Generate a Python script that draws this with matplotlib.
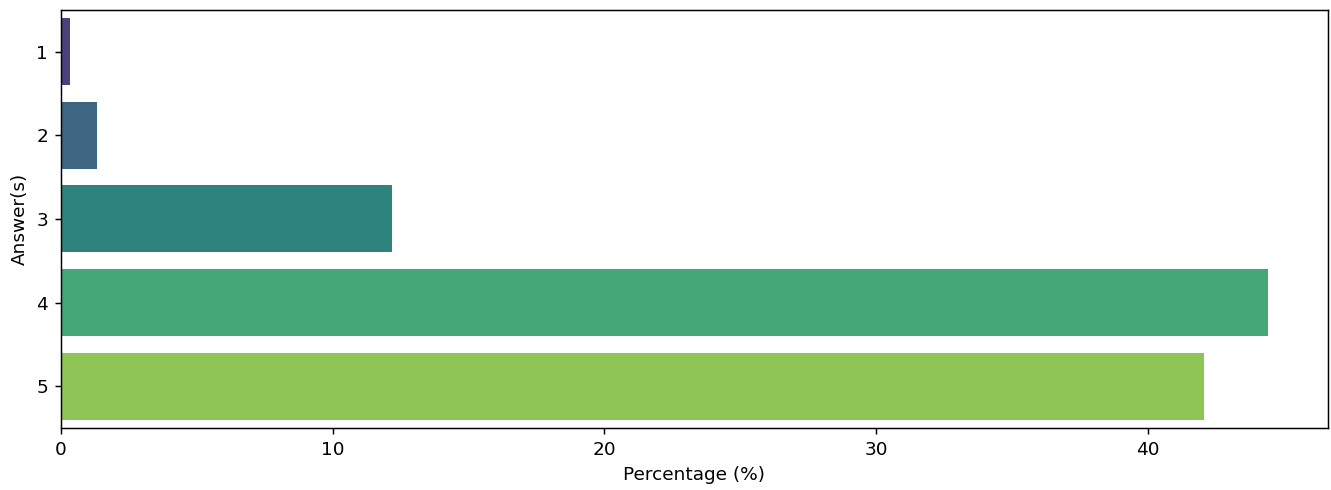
import matplotlib
matplotlib.use("Agg")
import matplotlib.pyplot as plt
import seaborn as sns
import pandas as pd

answers = ["1", "2", "3", "4", "5"]
percentages = [0.35, 1.32, 12.17, 44.4, 42.05]

df = pd.DataFrame({"Answer(s)": answers, "Percentage (%)": percentages})

s = 1.33
plt.rcParams.update({
    "font.size": 10 * s,
    "xtick.major.size": 3.5 * s,
    "ytick.major.size": 3.5 * s,
    "xtick.major.width": 0.8 * s,
    "ytick.major.width": 0.8 * s,
    "axes.linewidth": 0.8 * s,
    "xtick.major.pad": 3.5 * s,
    "ytick.major.pad": 3.5 * s,
    "axes.labelpad": 4.0 * s,
})

fig = plt.figure(figsize=(13.31, 4.9), dpi=100)
ax = fig.add_axes([0.0458, 0.1265, 0.9519, 0.8535])
sns.barplot(data=df, x="Percentage (%)", y="Answer(s)", hue="Answer(s)",
            palette="viridis", legend=False, orient="h", ax=ax)
ax.set_xlabel("Percentage (%)")
ax.set_ylabel("Answer(s)")
fig.savefig("out.png", dpi=100)
